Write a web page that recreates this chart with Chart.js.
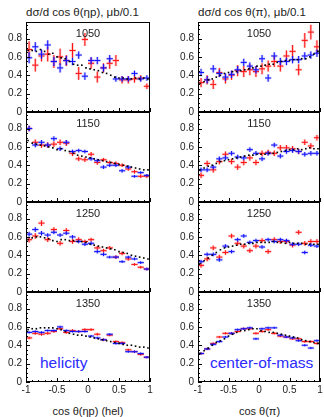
<!DOCTYPE html>
<html><head><meta charset="utf-8">
<script src="https://cdn.jsdelivr.net/npm/chart.js@4.4.0/dist/chart.umd.min.js"></script>
<style>
body{margin:0;background:#fff;width:324px;height:417px;overflow:hidden;position:relative;font-family:"Liberation Sans",Arial,sans-serif;}
.t{position:absolute;white-space:nowrap;color:#222;line-height:1;}
canvas{position:absolute;}
</style></head><body>
<div class="t" style="left:26px;top:7px;font-size:11.5px">dσ/d cos θ(ηp), μb/0.1</div>
<div class="t" style="left:198px;top:7px;font-size:11.5px">dσ/d cos θ(π), μb/0.1</div>
<div class="t" style="left:0;width:176px;text-align:center;top:406px;font-size:11px">cos θ(ηp) (hel)</div>
<div class="t" style="left:195px;width:129px;text-align:center;top:406px;font-size:11px">cos θ(π)</div>
<div class="t" style="left:40px;top:355px;font-size:15.5px;color:#2b2bff">helicity</div>
<div class="t" style="left:210px;top:355px;font-size:15.5px;color:#2b2bff">center-of-mass</div>
<script>
// ---- data ----
const energies = ['1050', '1150', '1250', '1350'];
const binX = [-0.95,-0.85,-0.75,-0.65,-0.55,-0.45,-0.35,-0.25,-0.15,-0.05,0.05,0.15,0.25,0.35,0.45,0.55,0.65,0.75,0.85,0.95];
const modelX = [-0.967,-0.9,-0.833,-0.767,-0.7,-0.633,-0.567,-0.5,-0.433,-0.367,-0.3,-0.233,-0.167,-0.1,-0.033,0.033,0.1,0.167,0.233,0.3,0.367,0.433,0.5,0.567,0.633,0.7,0.767,0.833,0.9,0.967];
const yTicks = [0, 0.2, 0.4, 0.6, 0.8];
const xTicks = [-1, -0.5, 0, 0.5, 1];
const xTickLabels = ['-1', '-0.5', '0', '0.5', '1'];

// helicity frame, cos theta(eta p)
const helRed1050  = [0.68,0.51,0.61,0.63,0.55,0.60,0.56,0.67,0.42,0.79,0.53,0.38,0.48,0.53,0.56,0.35,0.35,0.36,0.37,0.28];
const helRedErr1050 = [0.09,0.07,0.06,0.08,0.07,0.09,0.06,0.08,0.07,0.07,0.06,0.06,0.05,0.06,0.06,0.04,0.04,0.04,0.03,0.03];
const helBlue1050 = [0.59,0.71,0.63,0.73,0.55,0.48,0.56,0.55,0.62,0.39,0.56,0.56,0.48,0.58,0.36,0.36,0.36,0.42,0.36,0.37];
const helBlueErr1050 = [0.06,0.05,0.05,0.05,0.05,0.05,0.05,0.04,0.04,0.04,0.04,0.04,0.04,0.04,0.03,0.03,0.03,0.03,0.03,0.03];
const helModel1050 = [0.67,0.67,0.66,0.68,0.66,0.63,0.64,0.60,0.59,0.58,0.55,0.52,0.51,0.51,0.48,0.47,0.46,0.45,0.43,0.42,0.40,0.38,0.37,0.37,0.36,0.36,0.37,0.36,0.37,0.36];

const helRed1150  = [0.80,0.65,0.62,0.62,0.63,0.65,0.64,0.53,0.47,0.46,0.52,0.43,0.46,0.43,0.42,0.40,0.36,0.33,0.28,0.28];
const helRedErr1150 = [0.03,0.03,0.03,0.03,0.03,0.03,0.03,0.03,0.025,0.025,0.025,0.025,0.02,0.02,0.02,0.02,0.02,0.02,0.02,0.02];
const helBlue1150 = [0.80,0.62,0.65,0.62,0.69,0.58,0.65,0.55,0.56,0.55,0.47,0.45,0.38,0.40,0.40,0.34,0.38,0.28,0.32,0.29];
const helBlueErr1150 = [0.03,0.025,0.025,0.025,0.025,0.025,0.025,0.02,0.02,0.02,0.02,0.02,0.02,0.02,0.02,0.02,0.02,0.015,0.015,0.015];
const helModel1150 = [0.67,0.64,0.63,0.62,0.61,0.60,0.59,0.57,0.58,0.56,0.55,0.53,0.51,0.50,0.49,0.48,0.47,0.46,0.45,0.44,0.43,0.42,0.41,0.40,0.39,0.38,0.37,0.36,0.35,0.35];

const helRed1250  = [0.57,0.61,0.75,0.57,0.68,0.53,0.67,0.55,0.57,0.55,0.57,0.48,0.45,0.48,0.38,0.42,0.36,0.30,0.27,0.25];
const helRedErr1250 = [0.03,0.03,0.03,0.025,0.025,0.025,0.025,0.025,0.025,0.02,0.02,0.02,0.02,0.02,0.02,0.02,0.02,0.015,0.015,0.015];
const helBlue1250 = [0.63,0.68,0.64,0.62,0.65,0.62,0.64,0.60,0.55,0.52,0.53,0.44,0.41,0.38,0.38,0.33,0.38,0.36,0.32,0.25];
const helBlueErr1250 = [0.025,0.025,0.025,0.02,0.02,0.02,0.02,0.02,0.02,0.02,0.02,0.02,0.02,0.015,0.015,0.015,0.015,0.015,0.015,0.015];
const helModel1250 = [0.57,0.59,0.60,0.60,0.59,0.58,0.56,0.55,0.57,0.57,0.56,0.56,0.55,0.55,0.54,0.52,0.51,0.50,0.49,0.48,0.47,0.46,0.44,0.43,0.42,0.40,0.39,0.38,0.37,0.36];

const helRed1350  = [0.48,0.53,0.52,0.53,0.55,0.58,0.54,0.56,0.55,0.57,0.57,0.52,0.46,0.51,0.44,0.43,0.35,0.33,0.30,0.27];
const helRedErr1350 = [0.015,0.015,0.015,0.015,0.015,0.015,0.015,0.015,0.015,0.015,0.015,0.015,0.015,0.012,0.012,0.012,0.012,0.012,0.012,0.012];
const helBlue1350 = [0.54,0.55,0.54,0.56,0.56,0.60,0.56,0.55,0.55,0.55,0.50,0.48,0.46,0.52,0.42,0.42,0.33,0.33,0.31,0.27];
const helBlueErr1350 = [0.012,0.012,0.012,0.012,0.012,0.012,0.012,0.012,0.012,0.012,0.012,0.012,0.012,0.012,0.012,0.012,0.012,0.012,0.012,0.012];
const helModel1350 = [0.57,0.58,0.58,0.59,0.59,0.59,0.59,0.58,0.57,0.55,0.53,0.52,0.51,0.51,0.50,0.49,0.48,0.47,0.46,0.45,0.44,0.43,0.42,0.41,0.40,0.40,0.39,0.38,0.38,0.37];

// center-of-mass frame, cos theta(pi)
const cmRed1050  = [0.32,0.35,0.30,0.43,0.36,0.40,0.45,0.44,0.46,0.44,0.47,0.50,0.55,0.50,0.61,0.66,0.46,0.78,0.87,0.71];
const cmRedErr1050 = [0.05,0.05,0.05,0.05,0.05,0.05,0.06,0.06,0.06,0.06,0.06,0.06,0.06,0.06,0.06,0.07,0.06,0.08,0.08,0.07];
const cmBlue1050 = [0.43,0.35,0.47,0.42,0.38,0.41,0.46,0.54,0.50,0.46,0.58,0.37,0.61,0.55,0.55,0.57,0.57,0.61,0.62,0.64];
const cmBlueErr1050 = [0.04,0.04,0.04,0.04,0.04,0.04,0.04,0.04,0.04,0.04,0.04,0.04,0.04,0.04,0.04,0.04,0.04,0.04,0.04,0.04];
const cmModel1050 = [0.31,0.33,0.35,0.36,0.38,0.40,0.42,0.43,0.44,0.44,0.45,0.46,0.47,0.48,0.50,0.50,0.51,0.52,0.52,0.54,0.55,0.56,0.56,0.57,0.57,0.58,0.58,0.60,0.63,0.66];

const cmRed1150  = [0.29,0.42,0.35,0.44,0.52,0.44,0.38,0.43,0.48,0.43,0.53,0.54,0.53,0.59,0.59,0.58,0.55,0.65,0.61,0.70];
const cmRedErr1150 = [0.03,0.03,0.03,0.03,0.03,0.03,0.03,0.03,0.03,0.03,0.03,0.03,0.03,0.03,0.03,0.03,0.03,0.03,0.03,0.03];
const cmBlue1150 = [0.35,0.35,0.38,0.47,0.48,0.53,0.49,0.48,0.57,0.53,0.47,0.53,0.62,0.50,0.55,0.56,0.55,0.52,0.53,0.53];
const cmBlueErr1150 = [0.025,0.025,0.025,0.025,0.025,0.025,0.025,0.025,0.025,0.025,0.025,0.025,0.025,0.025,0.025,0.025,0.025,0.025,0.025,0.025];
const cmModel1150 = [0.35,0.37,0.39,0.40,0.42,0.44,0.45,0.46,0.47,0.48,0.49,0.50,0.51,0.51,0.52,0.52,0.52,0.53,0.53,0.54,0.55,0.56,0.57,0.57,0.58,0.57,0.58,0.59,0.58,0.58];

const cmRed1250  = [0.29,0.36,0.48,0.38,0.43,0.61,0.53,0.50,0.45,0.50,0.56,0.44,0.57,0.55,0.55,0.51,0.65,0.53,0.55,0.55];
const cmRedErr1250 = [0.025,0.025,0.025,0.025,0.025,0.025,0.025,0.025,0.025,0.025,0.025,0.025,0.025,0.025,0.025,0.025,0.025,0.025,0.025,0.025];
const cmBlue1250 = [0.33,0.41,0.41,0.35,0.50,0.44,0.57,0.61,0.54,0.56,0.49,0.57,0.55,0.57,0.56,0.52,0.52,0.43,0.51,0.50];
const cmBlueErr1250 = [0.02,0.02,0.02,0.02,0.02,0.02,0.02,0.02,0.02,0.02,0.02,0.02,0.02,0.02,0.02,0.02,0.02,0.02,0.02,0.02];
const cmModel1250 = [0.31,0.34,0.37,0.40,0.43,0.46,0.48,0.49,0.50,0.51,0.52,0.52,0.53,0.53,0.54,0.54,0.54,0.54,0.55,0.54,0.54,0.53,0.54,0.53,0.53,0.53,0.52,0.52,0.52,0.52];

const cmRed1350  = [0.31,0.36,0.42,0.49,0.53,0.53,0.55,0.58,0.58,0.53,0.55,0.57,0.53,0.50,0.49,0.47,0.47,0.44,0.44,0.42];
const cmRedErr1350 = [0.012,0.012,0.012,0.012,0.012,0.012,0.012,0.012,0.012,0.012,0.012,0.012,0.012,0.012,0.012,0.012,0.012,0.012,0.012,0.012];
const cmBlue1350 = [0.31,0.36,0.41,0.44,0.49,0.53,0.57,0.58,0.59,0.47,0.58,0.59,0.59,0.51,0.49,0.48,0.45,0.40,0.37,0.45];
const cmBlueErr1350 = [0.012,0.012,0.012,0.012,0.012,0.012,0.012,0.012,0.012,0.012,0.012,0.012,0.012,0.012,0.012,0.012,0.012,0.012,0.012,0.012];
const cmModel1350 = [0.31,0.34,0.37,0.40,0.43,0.45,0.47,0.50,0.52,0.54,0.56,0.56,0.57,0.58,0.58,0.56,0.55,0.54,0.54,0.53,0.52,0.51,0.50,0.49,0.48,0.46,0.45,0.44,0.43,0.42];

const panels = [
  [helRed1050, helRedErr1050, helBlue1050, helBlueErr1050, helModel1050, cmRed1050, cmRedErr1050, cmBlue1050, cmBlueErr1050, cmModel1050],
  [helRed1150, helRedErr1150, helBlue1150, helBlueErr1150, helModel1150, cmRed1150, cmRedErr1150, cmBlue1150, cmBlueErr1150, cmModel1150],
  [helRed1250, helRedErr1250, helBlue1250, helBlueErr1250, helModel1250, cmRed1250, cmRedErr1250, cmBlue1250, cmBlueErr1250, cmModel1250],
  [helRed1350, helRedErr1350, helBlue1350, helBlueErr1350, helModel1350, cmRed1350, cmRedErr1350, cmBlue1350, cmBlueErr1350, cmModel1350]
];

// ---- drawing ----
const HALF_BIN = 0.05;
const FONT = '"Liberation Sans", Arial, sans-serif';

const rootPlugin = {
  id: 'rootStyle',
  beforeDatasetsDraw(chart) {
    const ctx = chart.ctx, xs = chart.scales.x, ys = chart.scales.y;
    ctx.save();
    chart.data.datasets.forEach(ds => {
      if (!ds.errs) return;
      ds.data.forEach((p, i) => {
        const e = ds.errs[i];
        const px = xs.getPixelForValue(p.x), py = ys.getPixelForValue(p.y);
        const xa = xs.getPixelForValue(p.x - HALF_BIN), xb = xs.getPixelForValue(p.x + HALF_BIN);
        const ya = ys.getPixelForValue(p.y - e), yb = ys.getPixelForValue(p.y + e);
        [[ds.halo, 2.6], [ds.line, 1]].forEach(([c, w]) => {
          ctx.strokeStyle = c; ctx.lineWidth = w;
          ctx.beginPath();
          ctx.moveTo(xa, py); ctx.lineTo(xb, py);
          ctx.moveTo(px, ya); ctx.lineTo(px, yb);
          ctx.stroke();
        });
      });
    });
    ctx.restore();
  },
  afterDatasetsDraw(chart, args, opts) {
    const ctx = chart.ctx, xs = chart.scales.x, ys = chart.scales.y, a = chart.chartArea;
    ctx.save();
    ctx.strokeStyle = '#000'; ctx.lineWidth = 1;
    ctx.strokeRect(a.left + 0.5, a.top + 0.5, a.right - a.left - 1, a.bottom - a.top - 1);
    ctx.beginPath();
    for (let k = 0; k <= 19; k++) {
      const v = k * 0.05;
      if (v > ys.max) break;
      const y = Math.round(ys.getPixelForValue(v)) + 0.5;
      const major = k % 4 === 0;
      ctx.moveTo(a.left, y); ctx.lineTo(a.left + (major ? 4 : 2), y);
    }
    for (let k = 0; k <= 20; k++) {
      const v = -1 + k * 0.1;
      const x = Math.round(xs.getPixelForValue(v)) + 0.5;
      const major = k % 5 === 0;
      ctx.moveTo(x, a.bottom); ctx.lineTo(x, a.bottom - (major ? 4 : 2));
    }
    ctx.stroke();
    ctx.fillStyle = '#222';
    ctx.font = '10px ' + FONT;
    ctx.textAlign = 'right'; ctx.textBaseline = 'middle';
    yTicks.forEach(v => ctx.fillText(String(v), a.left - 4, ys.getPixelForValue(v)));
    if (opts.showX) {
      ctx.textAlign = 'center'; ctx.textBaseline = 'top';
      xTicks.forEach((v, i) => ctx.fillText(xTickLabels[i], xs.getPixelForValue(v), a.bottom + 3));
    }
    ctx.font = '11px ' + FONT;
    ctx.textAlign = 'center'; ctx.textBaseline = 'middle';
    ctx.fillText(opts.label, (a.left + a.right) / 2, a.top + 12);
    ctx.restore();
  }
};

function makePanel(col, row, red, redErr, blue, blueErr, model) {
  const cv = document.createElement('canvas');
  const last = row === 3;
  const top = 22 + 90 * row;
  const padTop = 8, padBottom = last ? 22 : 8;
  const left = col === 0 ? 0 : 170;
  const padLeft = col === 0 ? 26 : 28, padRight = col === 0 ? 3 : 1;
  const w = 154, h = 90 + padTop + padBottom;
  cv.width = w; cv.height = h;
  cv.style.left = left + 'px'; cv.style.top = (top - padTop) + 'px';
  cv.style.width = w + 'px'; cv.style.height = h + 'px';
  document.body.appendChild(cv);
  new Chart(cv, {
    type: 'scatter',
    data: {
      datasets: [
        { data: red.map((v, i) => ({ x: binX[i], y: v })), errs: redErr, line: '#ff1010', halo: 'rgba(255,70,70,0.3)', pointRadius: 0 },
        { data: blue.map((v, i) => ({ x: binX[i], y: v })), errs: blueErr, line: '#1010ff', halo: 'rgba(70,70,255,0.3)', pointRadius: 0 },
        { data: model.map((v, i) => ({ x: modelX[i], y: v })), pointStyle: 'rect', pointRadius: 1.15, backgroundColor: '#000', borderWidth: 0 }
      ]
    },
    options: {
      responsive: false, animation: false, devicePixelRatio: 1, events: [],
      layout: { padding: { left: padLeft, right: padRight, top: padTop, bottom: padBottom } },
      scales: {
        x: { type: 'linear', min: -1, max: 1, display: false },
        y: { type: 'linear', min: 0, max: 0.98, display: false }
      },
      plugins: { legend: { display: false }, tooltip: { enabled: false }, title: { display: false },
        rootStyle: { showX: last, label: energies[row] } }
    },
    plugins: [rootPlugin]
  });
}

panels.forEach((p, row) => {
  makePanel(0, row, p[0], p[1], p[2], p[3], p[4]);
  makePanel(1, row, p[5], p[6], p[7], p[8], p[9]);
});
</script>
</body></html>
